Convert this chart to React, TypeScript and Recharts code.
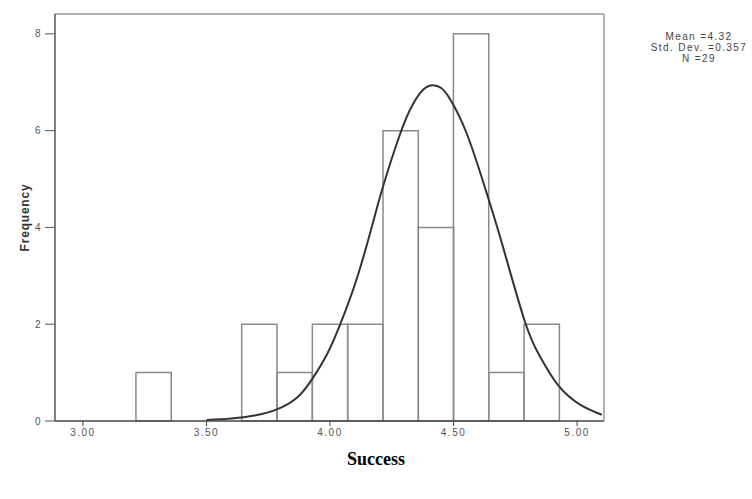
import {
  ComposedChart,
  Line,
  XAxis,
  YAxis,
  ReferenceArea,
} from 'recharts';

// histogram bins (centre of each bin) and counts
const binCenters = [3.286, 3.714, 3.857, 4.0, 4.143, 4.286, 4.429, 4.571, 4.714, 4.857];
const binCounts = [1, 2, 1, 2, 2, 6, 4, 8, 1, 2];
const BIN_WIDTH = 1 / 7;

// normal curve
const curveX = [3.5, 3.6, 3.7, 3.785, 3.866, 3.927, 3.988, 4.04, 4.109, 4.174, 4.215, 4.283, 4.336, 4.38, 4.417, 4.45, 4.486, 4.555, 4.636, 4.7, 4.789, 4.85, 4.923, 5.012, 5.1];
const curveY = [0.02, 0.05, 0.12, 0.24, 0.48, 0.86, 1.38, 1.98, 2.95, 4.1, 4.85, 5.92, 6.55, 6.86, 6.94, 6.88, 6.65, 5.92, 4.68, 3.6, 2.05, 1.33, 0.74, 0.34, 0.13];

const xTicks = [3, 3.5, 4, 4.5, 5];
const yTicks = [0, 2, 4, 6, 8];
const statsLines = ['Mean =4.32', 'Std. Dev. =0.357', 'N =29'];

const X_DOMAIN: [number, number] = [2.887, 5.109];
const Y_DOMAIN: [number, number] = [0, 8.41];

const curve = curveX.map((x, i) => ({ x, y: curveY[i] }));

const FONT = 'Liberation Sans, Arial, sans-serif';
const tickStyle = { fontSize: 10, fill: '#555', fontFamily: FONT, letterSpacing: 1.5 };

export default function App() {
  return (
    <div style={{ position: 'absolute', left: 0, top: 0, width: 752, height: 499, background: '#fff' }}>
      <ComposedChart
        width={752}
        height={499}
        margin={{ top: 13, right: 147, left: 0, bottom: 48 }}
      >
        <XAxis
          dataKey="x"
          type="number"
          domain={X_DOMAIN}
          ticks={xTicks}
          allowDataOverflow
          tickFormatter={(v: number) => v.toFixed(2)}
          tick={tickStyle}
          tickSize={5}
          tickMargin={3}
          height={30}
          axisLine={{ stroke: '#444', strokeWidth: 1.5 }}
          tickLine={{ stroke: '#444' }}
        />
        <XAxis
          xAxisId="top"
          orientation="top"
          type="number"
          domain={X_DOMAIN}
          allowDataOverflow
          tick={false}
          tickLine={false}
          height={1}
          axisLine={{ stroke: '#999', strokeWidth: 1.5 }}
        />
        <YAxis
          type="number"
          domain={Y_DOMAIN}
          ticks={yTicks}
          allowDataOverflow
          tick={tickStyle}
          tickSize={10}
          tickMargin={3}
          width={55}
          axisLine={{ stroke: '#555', strokeWidth: 1.5 }}
          tickLine={{ stroke: '#555' }}
          label={{
            value: 'Frequency',
            angle: -90,
            position: 'center',
            dx: -3,
            style: { fontSize: 12, fontWeight: 'bold', fill: '#333', fontFamily: FONT, letterSpacing: 0.8 },
          }}
        />
        <YAxis
          yAxisId="right"
          orientation="right"
          type="number"
          domain={Y_DOMAIN}
          allowDataOverflow
          tick={false}
          tickLine={false}
          width={1}
          axisLine={{ stroke: '#999', strokeWidth: 1.5 }}
        />
        {binCenters.map((c, i) => (
          <ReferenceArea
            key={i}
            x1={c - BIN_WIDTH / 2}
            x2={c + BIN_WIDTH / 2}
            y1={0}
            y2={binCounts[i]}
            fill="none"
            stroke="#8a8a8a"
            strokeWidth={1.5}
          />
        ))}
        <Line
          data={curve}
          dataKey="y"
          type="natural"
          stroke="#333"
          strokeWidth={2}
          dot={false}
          isAnimationActive={false}
        />
      </ComposedChart>
      <div
        style={{
          position: 'absolute',
          left: 646,
          top: 31,
          width: 106,
          textAlign: 'center',
          fontSize: 10,
          lineHeight: '11px',
          letterSpacing: 1.4,
          color: '#444',
          fontFamily: FONT,
        }}
      >
        {statsLines.map((s) => (
          <div key={s}>{s}</div>
        ))}
      </div>
      <div
        style={{
          position: 'absolute',
          left: 0,
          top: 449,
          width: 752,
          textAlign: 'center',
          fontSize: 18,
          fontWeight: 'bold',
          fontFamily: 'Liberation Serif, Times New Roman, serif',
        }}
      >
        Success
      </div>
    </div>
  );
}
